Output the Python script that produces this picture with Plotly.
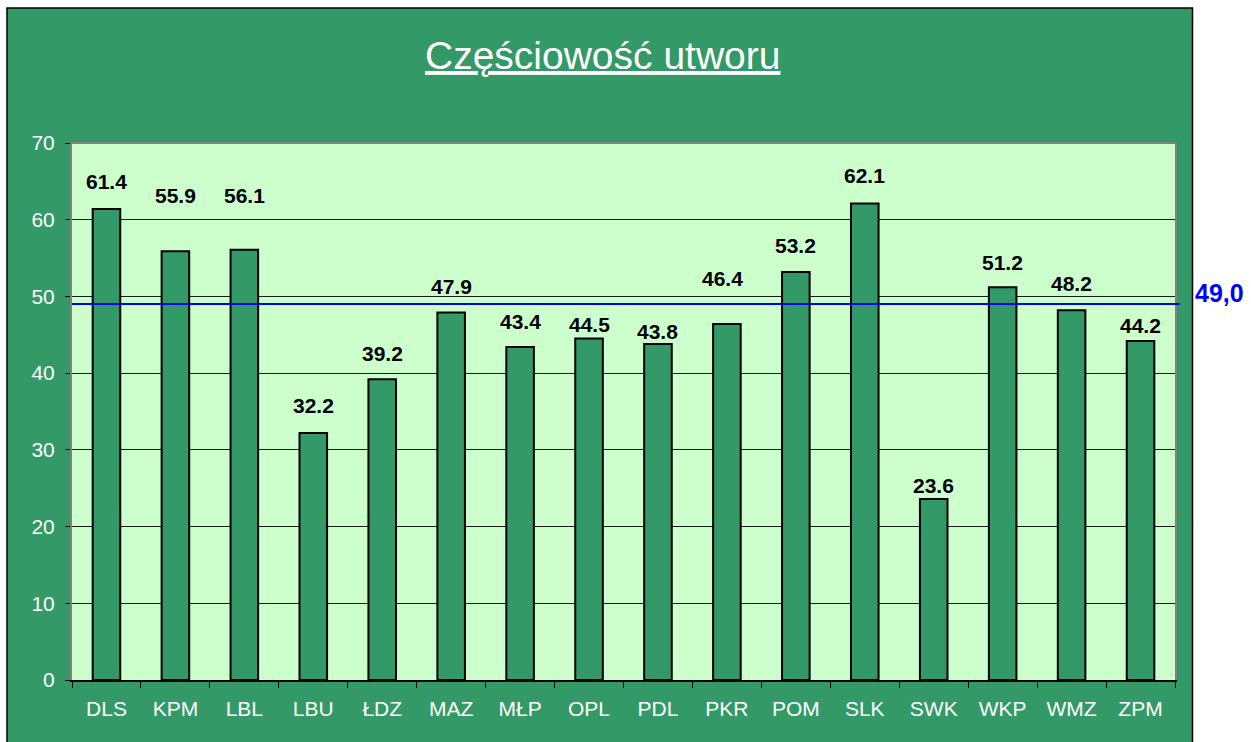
import plotly.graph_objects as go

categories = ["DLS", "KPM", "LBL", "LBU", "ŁDZ", "MAZ", "MŁP", "OPL",
              "PDL", "PKR", "POM", "SLK", "SWK", "WKP", "WMZ", "ZPM"]
values = [61.4, 55.9, 56.1, 32.2, 39.2, 47.9, 43.4, 44.5,
          43.8, 46.4, 53.2, 62.1, 23.6, 51.2, 48.2, 44.2]
average_value = 49.0
average_label = "49,0"
title_text = "Częściowość utworu"
y_ticks = [0, 10, 20, 30, 40, 50, 60, 70]

# label placement styling (pixel offsets above the bar top)
label_yshift = [27, 56, 54, 27, 26, 26, 26, 14, 12, 46, 26, 28, 13, 25, 27, 15]
label_xshift = [0, 0, 0, 0, 0, 0, 0, 0, 0, -4, 0, 0, 0, 0, 0, 0]

GREEN = "#339966"
PLOT_BG = "#CCFFCC"
FONT = "Liberation Sans, Arial, sans-serif"

# plot area in pixels: x 72..1175, y 143..680
L, R, T, B = 72, 1175, 143, 680
W, H = R - L, B - T
def px(x):
    return (x - L) / W
def py(y):
    return (B - y) / H

fig = go.Figure()
fig.add_trace(go.Bar(
    x=categories, y=values,
    marker=dict(color=GREEN, line=dict(color="black", width=2)),
    hoverinfo="x+y",
))

annotations = []
for c, v, dy, dx in zip(categories, values, label_yshift, label_xshift):
    annotations.append(dict(
        x=c, y=v, xref="x", yref="y", text=f"<b>{v:.1f}</b>",
        showarrow=False, yanchor="middle", xanchor="center",
        yshift=dy, xshift=dx,
        font=dict(family=FONT, size=21, color="black"),
    ))
annotations.append(dict(
    x=px(1219), y=average_value, xref="paper", yref="y",
    text=f"<b>{average_label}</b>", showarrow=False,
    xanchor="center", yanchor="middle", yshift=11,
    font=dict(family=FONT, size=25, color="#0000FF"),
))
annotations.append(dict(
    x=px(602), y=py(56), xref="paper", yref="paper",
    text=f"<u>{title_text}</u>", showarrow=False,
    xanchor="center", yanchor="middle",
    font=dict(family=FONT, size=39, color="white"),
))

shapes = [
    # outer green chart area
    dict(type="rect", xref="paper", yref="paper", layer="below",
         x0=px(7), x1=px(1192.5), y0=py(745), y1=py(8),
         fillcolor=GREEN, line=dict(color="black", width=1.5)),
    # plot area background
    dict(type="rect", xref="paper", yref="paper", layer="below",
         x0=0, x1=1, y0=0, y1=1,
         fillcolor=PLOT_BG, line=dict(width=0)),
    # top border of plot area
    dict(type="line", xref="paper", yref="paper", layer="above",
         x0=0, x1=1, y0=1, y1=1, line=dict(color="#808080", width=2)),
    # average line
    dict(type="line", xref="paper", yref="y", layer="above",
         x0=0, x1=px(1180), y0=average_value, y1=average_value,
         line=dict(color="#0000FF", width=2)),
]

fig.update_layout(
    width=1251, height=742,
    margin=dict(l=L, r=1251 - R, t=T, b=742 - B, autoexpand=False),
    paper_bgcolor="white", plot_bgcolor=PLOT_BG,
    bargap=0.6, showlegend=False,
    annotations=annotations, shapes=shapes,
    xaxis=dict(
        type="category", tickson="boundaries", ticks="outside", ticklen=6,
        tickcolor="black", tickwidth=1,
        showline=True, linecolor="black", linewidth=2,
        showgrid=False,
        tickfont=dict(family=FONT, size=21, color="white"),
        ticklabelstandoff=9,
    ),
    yaxis=dict(
        range=[0, 70], tickvals=y_ticks, ticks="outside", ticklen=5,
        tickcolor="black", tickwidth=1,
        showline=True, linecolor="#808080", linewidth=2, mirror=True,
        showgrid=True, gridcolor="#1a1a1a", gridwidth=1,
        zeroline=False,
        tickfont=dict(family=FONT, size=21, color="white"),
        ticklabelstandoff=6,
    ),
)

fig.write_html("out.html",
               config={"displayModeBar": False},
               post_script="document.body.style.margin='0';document.body.style.overflow='hidden';")
